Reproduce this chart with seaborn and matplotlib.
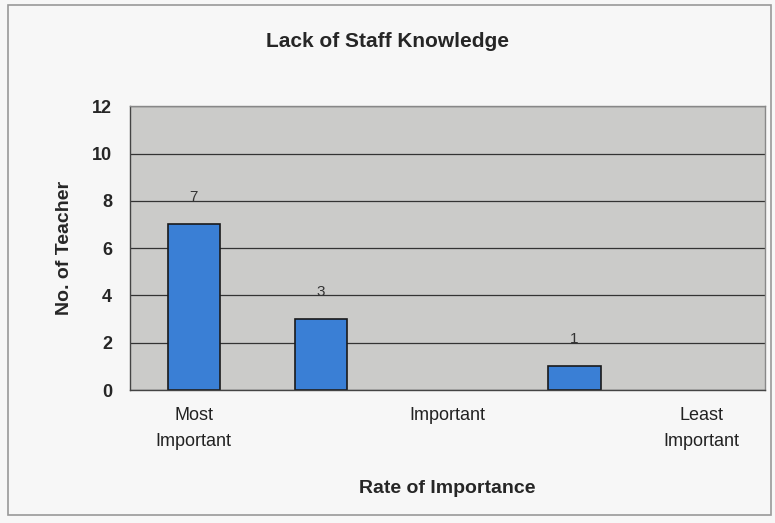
import matplotlib
matplotlib.use("Agg")
import matplotlib.pyplot as plt
import seaborn as sns
import pandas as pd

# data
ranks = ["1", "2", "3", "4", "5"]
teachers = [7, 3, 0, 1, 0]
tick_labels = ["Most\nImportant", "", "Important", "", "Least\nImportant"]
y_ticks = [0, 2, 4, 6, 8, 10, 12]

df = pd.DataFrame({"rank": ranks, "teachers": teachers})

sns.set_style("white")
plt.rcParams["font.family"] = ["Liberation Sans", "DejaVu Sans"]

fig = plt.figure(figsize=(7.75, 5.23), dpi=100)
fig.patch.set_facecolor("#f7f7f7")
ax = fig.add_axes([0.168, 0.254, 0.819, 0.543])
ax.set_facecolor("#cbcbc9")

sns.barplot(data=df, x="rank", y="teachers", order=ranks, color="#3a7fd5",
            width=0.41, edgecolor="#1a1a1a", linewidth=1.2, saturation=1, ax=ax)
# no outline for empty bars
for p in ax.patches:
    if p.get_height() == 0:
        p.set_linewidth(0)

# value labels (skip zero bars)
for i, v in enumerate(teachers):
    if v > 0:
        ax.text(i, v + 0.85, str(v), ha="center", va="bottom", fontsize=11, color="#333333")

ax.set_ylim(0, 12)
ax.set_xlim(-0.5, 4.5)
ax.set_yticks(y_ticks)
ax.yaxis.grid(True, color="#333333", linewidth=0.9)
ax.set_axisbelow(True)
ax.set_xticks(range(len(ranks)))
ax.set_xticklabels(tick_labels, fontsize=13, color="#222222", va="top", linespacing=1.7)
ax.tick_params(axis="x", length=0, pad=12)
ax.set_xticks([i + 0.5 for i in range(-1, len(ranks))], minor=True)
ax.tick_params(axis="x", which="minor", length=4, color="#555555", direction="out")
ax.tick_params(axis="y", length=5, color="#555555", direction="out", labelsize=13, pad=8)
for lbl in ax.get_yticklabels():
    lbl.set_fontweight("bold")

for side in ["left", "bottom", "right", "top"]:
    ax.spines[side].set_visible(True)
    ax.spines[side].set_color("#444444")
    ax.spines[side].set_linewidth(1.0)
ax.spines["right"].set_color("#888888")
ax.spines["top"].set_color("#888888")

ax.set_xlabel("Rate of Importance", fontsize=14, fontweight="bold", labelpad=22)
ax.set_ylabel("No. of Teacher", fontsize=14, fontweight="bold", labelpad=14)
fig.text(0.5, 0.92, "Lack of Staff Knowledge", ha="center", va="center",
         fontsize=15, fontweight="bold")

# outer chart frame
fig.add_artist(plt.Rectangle((0.01, 0.015), 0.985, 0.975, transform=fig.transFigure,
                             fill=False, edgecolor="#999999", linewidth=1.2))

fig.savefig("out.png", dpi=100, facecolor=fig.get_facecolor())
